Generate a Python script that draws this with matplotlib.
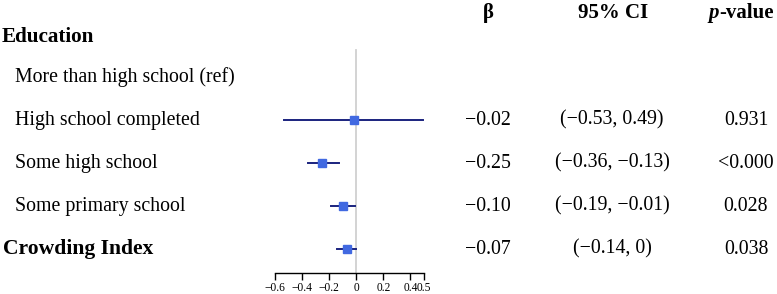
import matplotlib
matplotlib.use("Agg")
import matplotlib.pyplot as plt
from matplotlib import transforms
from matplotlib.offsetbox import TextArea, HPacker, AnnotationBbox

labels = ["Education", "More than high school (ref)", "High school completed",
          "Some high school", "Some primary school", "Crowding Index"]
is_header = [True, False, False, False, False, True]
beta = [None, None, -0.02, -0.25, -0.10, -0.07]
lo = [None, None, -0.53, -0.36, -0.19, -0.14]
hi = [None, None, 0.49, -0.13, -0.01, 0.0]
beta_txt = ["", "", "\u22120.02", "\u22120.25", "\u22120.10", "\u22120.07"]
ci_txt = ["", "", "(\u22120.53, 0.49)", "(\u22120.36, \u22120.13)", "(\u22120.19, \u22120.01)", "(\u22120.14, 0)"]
p_txt = ["", "", "0.931", "<0.000", "0.028", "0.038"]
xticks = [-0.6, -0.4, -0.2, 0, 0.2, 0.4, 0.5]
xticklabels = ["\u22120.6", "\u22120.4", "\u22120.2", "0", "0.2", "0.4", "0.5"]

plt.rcParams['font.family'] = ['Liberation Serif', 'DejaVu Serif']

W, H = 777, 294
fig = plt.figure(figsize=(W / 100, H / 100), dpi=100)
ax = fig.add_axes([275 / W, 21 / H, (424 - 275) / W, 273 / H])
ax.set_xlim(-0.6, 0.5)
ax.set_ylim(5.558, -0.791)

ax.plot([0, 0], [0.372, 5.558], color="#d0d0d0", lw=1.3, zorder=1)
for i in range(len(labels)):
    if beta[i] is None:
        continue
    ax.plot([lo[i], hi[i]], [i, i], color="#1a237e", lw=1.4, zorder=2)
    ax.plot(beta[i], i, marker="s", ms=6, color="#4169e1", zorder=3)

for s in ["top", "right", "left"]:
    ax.spines[s].set_visible(False)
ax.spines["bottom"].set_linewidth(1.0)
ax.set_yticks([])
ax.set_xticks(xticks)
ax.set_xticklabels(xticklabels, fontsize=8.3)
ax.tick_params(axis="x", direction="out", length=5, width=1.0, pad=1.5)

tr = transforms.blended_transform_factory(fig.transFigure, ax.transData)
for i, lab in enumerate(labels):
    if is_header[i]:
        x = 2 / W if i == 0 else 3 / W
        yy = i + 0.08 if i == 0 else i
        fs = 15.2 if i == 0 else 15.6
        ax.text(x, yy, lab, transform=tr, fontsize=fs, fontweight="bold",
                ha="left", va="center")
    else:
        ax.text(15 / W, i, lab, transform=tr, fontsize=14.3, ha="left", va="center")
    ax.text(488 / W, i, beta_txt[i], transform=tr, fontsize=14.3, ha="center", va="center")
    ax.text(612 / W, i, ci_txt[i], transform=tr, fontsize=14.3, ha="center", va="center")
    ax.text(746 / W, i, p_txt[i], transform=tr, fontsize=14.3, ha="center", va="center")

hy = 1 - 13 / H
fig.text(488 / W, hy, "\u03b2", fontsize=15, fontweight="bold", ha="center", va="center")
fig.text(613 / W, hy, "95% CI", fontsize=15, fontweight="bold", ha="center", va="center")
t1 = TextArea("p", textprops=dict(fontsize=15, fontweight="bold", fontstyle="italic",
                                   family=['Liberation Serif']))
t2 = TextArea("-value", textprops=dict(fontsize=15, fontweight="bold",
                                        family=['Liberation Serif']))
pack = HPacker(children=[t1, t2], align="baseline", pad=0, sep=0)
ab = AnnotationBbox(pack, (741 / W, hy), xycoords="figure fraction", frameon=False,
                    box_alignment=(0.5, 0.5), pad=0)
fig.add_artist(ab)

fig.savefig("out.png", dpi=100)
